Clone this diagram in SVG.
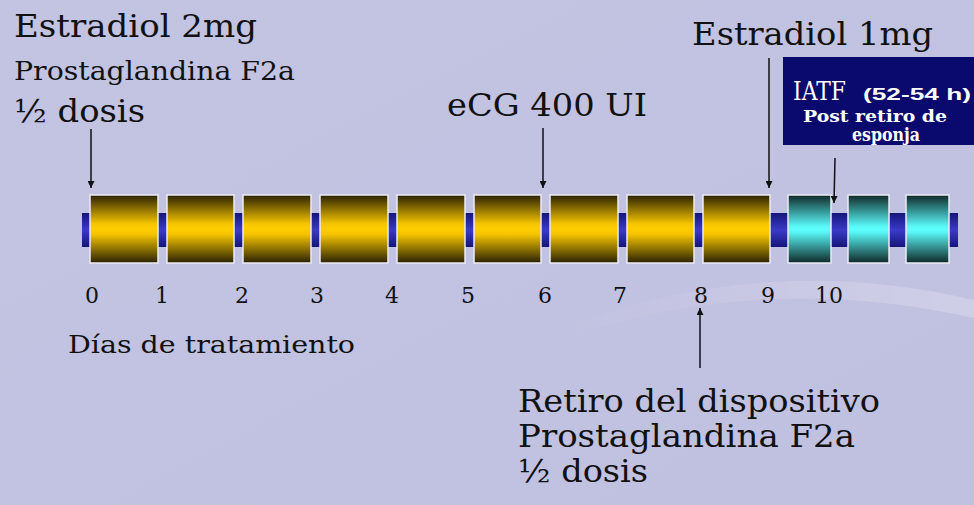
<svg xmlns="http://www.w3.org/2000/svg" width="974" height="505" viewBox="0 0 974 505">
<style>
.serif{font-family:"DejaVu Serif","Liberation Serif",serif;fill:#111}
.blk{stroke:#ecebf4;stroke-width:1.5}
.conn line{stroke:#111;stroke-width:1.5}
.wt{fill:#fff}
</style>
<defs>
<linearGradient id="bg" x1="0" y1="0" x2="1" y2="1">
<stop offset="0" stop-color="#c3c3e2"/><stop offset="1" stop-color="#c0c0e0"/>
</linearGradient>
<linearGradient id="streak" x1="0" y1="0" x2="1" y2="0">
<stop offset="0" stop-color="#ffffff" stop-opacity="0"/><stop offset="0.6" stop-color="#ffffff" stop-opacity="0.15"/><stop offset="1" stop-color="#ffffff" stop-opacity="0.22"/>
</linearGradient>
<linearGradient id="gy" x1="0" y1="0" x2="0" y2="1">
<stop offset="0" stop-color="#2a2100"/><stop offset="0.42" stop-color="#f4c400"/><stop offset="0.5" stop-color="#ffcc00"/><stop offset="0.58" stop-color="#f4c400"/><stop offset="1" stop-color="#2a2100"/>
</linearGradient>
<linearGradient id="gc" x1="0" y1="0" x2="0" y2="1">
<stop offset="0" stop-color="#102828"/><stop offset="0.45" stop-color="#58f4f4"/><stop offset="0.5" stop-color="#60ffff"/><stop offset="0.55" stop-color="#58f4f4"/><stop offset="1" stop-color="#102828"/>
</linearGradient>
<linearGradient id="gb" x1="0" y1="0" x2="0" y2="1">
<stop offset="0" stop-color="#15157a"/><stop offset="0.5" stop-color="#3a3ac8"/><stop offset="1" stop-color="#15157a"/>
</linearGradient>
<marker id="ah" viewBox="0 0 10 10" refX="10" refY="5" markerWidth="7" markerHeight="7" markerUnits="userSpaceOnUse" orient="auto">
<path d="M0,0 L10,5 L0,10 z" fill="#111"/>
</marker>
</defs>
<rect width="974" height="505" fill="url(#bg)"/>
<path d="M560,330 Q760,250 974,300 L974,318 Q760,270 560,340 z" fill="url(#streak)"/>

<g id="bar"><rect x="82" y="213" width="876" height="34" fill="url(#gb)"/></g>

<g id="blocks">
<rect class="blk" x="90" y="195" width="68" height="68" fill="url(#gy)"/>
<rect class="blk" x="167" y="195" width="67" height="68" fill="url(#gy)"/>
<rect class="blk" x="243" y="195" width="68" height="68" fill="url(#gy)"/>
<rect class="blk" x="320" y="195" width="68" height="68" fill="url(#gy)"/>
<rect class="blk" x="397" y="195" width="68" height="68" fill="url(#gy)"/>
<rect class="blk" x="474" y="195" width="67" height="68" fill="url(#gy)"/>
<rect class="blk" x="550" y="195" width="68" height="68" fill="url(#gy)"/>
<rect class="blk" x="627" y="195" width="67" height="68" fill="url(#gy)"/>
<rect class="blk" x="703" y="195" width="67" height="68" fill="url(#gy)"/>
<rect class="blk" x="788" y="195" width="43" height="68" fill="url(#gc)"/>
<rect class="blk" x="848" y="195" width="41" height="68" fill="url(#gc)"/>
<rect class="blk" x="906" y="195" width="43" height="68" fill="url(#gc)"/>
</g>

<g id="day-labels" class="serif" font-size="22" text-anchor="middle">
<text x="92" y="303">0</text><text x="162" y="303">1</text><text x="242" y="303">2</text>
<text x="317" y="303">3</text><text x="392" y="303">4</text><text x="468" y="303">5</text>
<text x="545" y="303">6</text><text x="620" y="303">7</text><text x="701" y="303">8</text>
<text x="768" y="303">9</text><text x="829" y="303">10</text>
</g>
<g id="axis-title"><text class="serif" x="68" y="353" font-size="24" textLength="287" lengthAdjust="spacingAndGlyphs">Días de tratamiento</text></g>

<g id="day0-label" class="serif">
<text x="14" y="37" font-size="31" textLength="243" lengthAdjust="spacingAndGlyphs">Estradiol 2mg</text>
<text x="14" y="80" font-size="26" textLength="281" lengthAdjust="spacingAndGlyphs">Prostaglandina F2a</text>
<text x="14" y="122" font-size="31" textLength="131" lengthAdjust="spacingAndGlyphs">½ dosis</text>
</g>
<g id="day6-label"><text class="serif" x="447" y="116" font-size="32" textLength="200" lengthAdjust="spacingAndGlyphs">eCG 400 UI</text></g>
<g id="day9-label"><text class="serif" x="692" y="45" font-size="32" textLength="241" lengthAdjust="spacingAndGlyphs">Estradiol 1mg</text></g>
<g id="iatf">
<rect x="783" y="57" width="191" height="88" fill="#0a0a6e"/>
<text class="wt" x="793" y="100" font-family="DejaVu Serif,Liberation Serif,serif" font-size="26" font-weight="300" textLength="53" lengthAdjust="spacingAndGlyphs">IATF</text>
<text class="wt" x="863" y="100" font-family="Liberation Sans,Arial,sans-serif" font-size="17" font-weight="bold" textLength="108" lengthAdjust="spacingAndGlyphs">(52-54 h)</text>
<text class="wt" x="803" y="122" font-family="DejaVu Serif,Liberation Serif,serif" font-size="17" font-weight="bold" textLength="144" lengthAdjust="spacingAndGlyphs">Post retiro de</text>
<text class="wt" x="852" y="141" font-family="DejaVu Serif,Liberation Serif,serif" font-size="18" font-weight="bold" textLength="68" lengthAdjust="spacingAndGlyphs">esponja</text>
</g>
<g id="day8-label" class="serif" font-size="31">
<text x="518" y="412" textLength="362" lengthAdjust="spacingAndGlyphs">Retiro del dispositivo</text>
<text x="518" y="447" textLength="337" lengthAdjust="spacingAndGlyphs">Prostaglandina F2a</text>
<text x="518" y="482" textLength="130" lengthAdjust="spacingAndGlyphs">½ dosis</text>
</g>

<g id="connectors" class="conn">
<line x1="91" y1="129" x2="91" y2="188" marker-end="url(#ah)"/>
<line x1="543" y1="128" x2="543" y2="188" marker-end="url(#ah)"/>
<line x1="769" y1="58" x2="769" y2="188" marker-end="url(#ah)"/>
<line x1="835" y1="158" x2="834" y2="203" marker-end="url(#ah)"/>
<line x1="700" y1="368" x2="700" y2="308" marker-end="url(#ah)"/>
</g>
</svg>
